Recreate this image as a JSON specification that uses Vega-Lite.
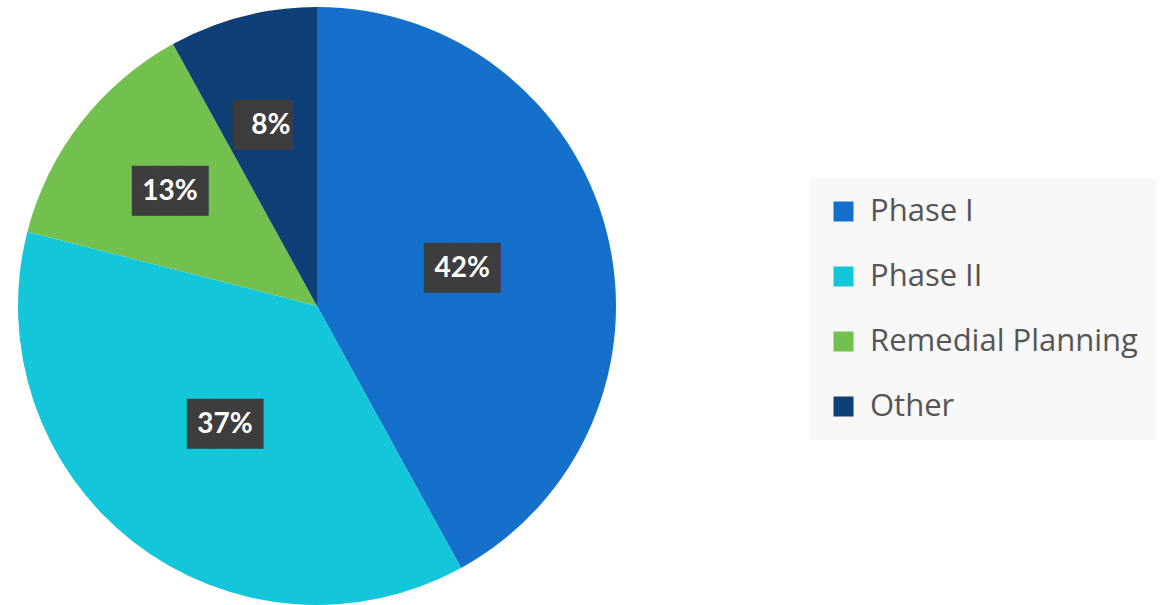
{
  "$schema": "https://vega.github.io/schema/vega-lite/v6.json",
  "width": 634,
  "height": 612,
  "padding": 0,
  "autosize": {"type": "pad"},
  "background": "white",
  "view": {"stroke": null},
  "data": {"values": [
    {"category": "Phase I", "value": 42, "idx": 1, "label": "42%"},
    {"category": "Phase II", "value": 37, "idx": 2, "label": "37%"},
    {"category": "Remedial Planning", "value": 13, "idx": 3, "label": "13%"},
    {"category": "Other", "value": 8, "idx": 4, "label": "8%"}
  ]},
  "encoding": {
    "theta": {"field": "value", "type": "quantitative", "stack": true},
    "order": {"field": "idx", "type": "quantitative"}
  },
  "layer": [
    {
      "mark": {"type": "arc", "outerRadius": 299},
      "encoding": {
        "color": {
          "field": "category", "type": "nominal",
          "scale": {"domain": ["Phase I", "Phase II", "Remedial Planning", "Other"],
                    "range": ["#1470CA", "#14C6DA", "#72C04E", "#0E3F77"]},
          "legend": {
            "title": null, "orient": "none", "legendX": 810, "legendY": 178,
            "padding": 18, "fillColor": "#f8f8f8", "symbolType": "square",
            "symbolSize": 400, "symbolStrokeWidth": 0, "labelFont": "Open Sans",
            "labelFontSize": 31, "labelColor": "#555555", "labelOffset": 11,
            "rowPadding": 33, "labelLimit": 400
          }
        }
      }
    },
    {
      "mark": {"type": "text", "radius": 150, "font": "DejaVu Sans Mono", "fontSize": 42, "color": "#3d3d3d", "baseline": "middle", "align": "center"},
      "encoding": {
        "text": {"condition": {"test": "datum.value < 10", "value": "██▍"}, "value": "███"},
        "opacity": {"condition": {"test": "datum.value > 20", "value": 1}, "value": 0}
      }
    },
    {
      "mark": {"type": "text", "radius": 186, "font": "DejaVu Sans Mono", "fontSize": 42, "color": "#3d3d3d", "baseline": "middle", "align": "center"},
      "encoding": {
        "text": {"condition": {"test": "datum.value < 10", "value": "██▍"}, "value": "███"},
        "opacity": {"condition": {"test": "datum.value > 20", "value": 0}, "value": 1}
      }
    },
    {
      "mark": {"type": "text", "radius": 150, "font": "Lato", "fontWeight": "bold", "fontSize": 28, "color": "white", "baseline": "middle", "align": "center"},
      "encoding": {
        "text": {"field": "label"},
        "opacity": {"condition": {"test": "datum.value > 20", "value": 1}, "value": 0}
      }
    },
    {
      "mark": {"type": "text", "radius": 186, "font": "Lato", "fontWeight": "bold", "fontSize": 28, "color": "white", "baseline": "middle", "align": "center"},
      "encoding": {
        "text": {"field": "label"},
        "opacity": {"condition": {"test": "datum.value > 20", "value": 0}, "value": 1}
      }
    }
  ]
}
